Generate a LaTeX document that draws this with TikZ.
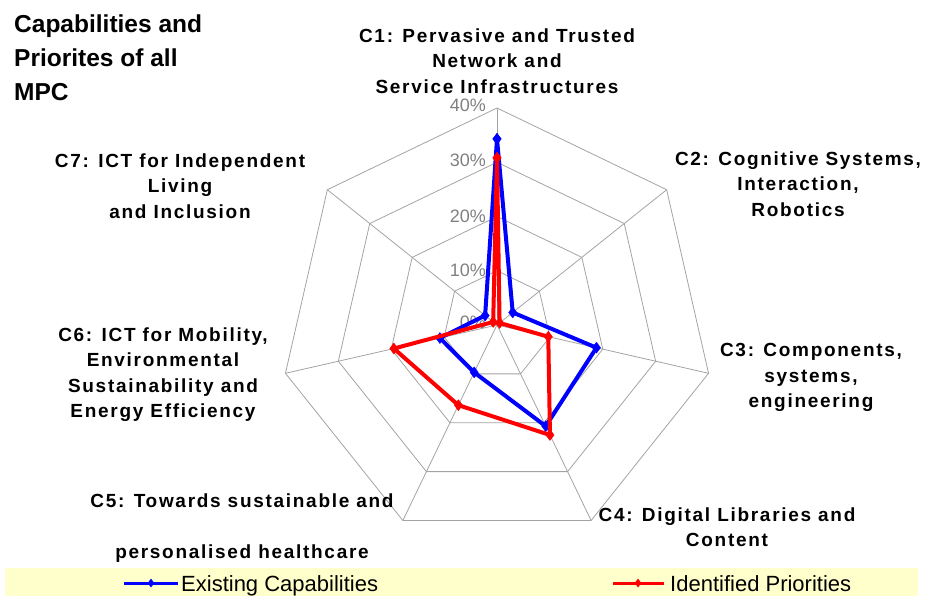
\documentclass[tikz,border=0pt]{standalone}
\usepackage{fontspec}
\setmainfont{Liberation Sans}
\usepackage{tikz}
\usetikzlibrary{plotmarks}
\definecolor{gridgray}{rgb}{.64,.64,.64}
\definecolor{axisgray}{rgb}{.5,.5,.5}
\definecolor{legendbg}{rgb}{1,1,.8}
\newcommand{\catfont}{\fontsize{19}{25.5}\selectfont\bfseries\addfontfeature{LetterSpace=9}}

\begin{document}
\begin{tikzpicture}[x=1pt,y=1pt,
    ring/.style={draw=gridgray,line width=0.8pt},
    series/.style={line width=4pt,line join=round,mark=diamond*,mark size=5.5pt,mark options={solid,line width=0.4pt}},
    cat/.style={align=center,anchor=north,inner sep=0pt,font=\catfont},
    pct/.style={anchor=east,inner sep=0pt,text=axisgray,font=\fontsize{18}{18}\selectfont}]
\useasboundingbox (0,0) rectangle (929,598);

\node[anchor=north west,align=left,inner sep=0pt,font=\fontsize{24.5}{34}\selectfont\bfseries] (title) at (14,583) {Capabilities and\\Priorites of all\\MPC};

\begin{scope}[shift={(497,273)}]
 % rings
 \draw[ring] (90:54.25) -- (38.57:54.25) -- (-12.86:54.25) -- (-64.29:54.25) -- (-115.71:54.25) -- (-167.14:54.25) -- (141.43:54.25) -- cycle;
 \draw[ring] (90:108.5) -- (38.57:108.5) -- (-12.86:108.5) -- (-64.29:108.5) -- (-115.71:108.5) -- (-167.14:108.5) -- (141.43:108.5) -- cycle;
 \draw[ring] (90:162.75) -- (38.57:162.75) -- (-12.86:162.75) -- (-64.29:162.75) -- (-115.71:162.75) -- (-167.14:162.75) -- (141.43:162.75) -- cycle;
 \draw[ring] (90:217) -- (38.57:217) -- (-12.86:217) -- (-64.29:217) -- (-115.71:217) -- (-167.14:217) -- (141.43:217) -- cycle;

 % spokes
 \draw[ring] (0,0) -- (90:217);
 \draw[ring] (0,0) -- (38.57:217);
 \draw[ring] (0,0) -- (-12.86:217);
 \draw[ring] (0,0) -- (-64.29:217);
 \draw[ring] (0,0) -- (-115.71:217);
 \draw[ring] (0,0) -- (-167.14:217);
 \draw[ring] (0,0) -- (141.43:217);

 \node[pct] (p0) at (-11,3) {0\%};
 \node[pct] (p10) at (-11,55) {10\%};
 \node[pct] (p20) at (-11,109) {20\%};
 \node[pct] (p30) at (-11,165) {30\%};
 \node[pct] (p40) at (-11,220) {40\%};

 % existing capabilities
 \draw[blue,series] plot coordinates {(90:186.1) (38.57:20.1) (-12.86:102) (-64.29:112.3) (-115.71:52.6) (-167.14:58.6) (141.43:15.2) (90:186.1)};
 % identified priorities
 \draw[red,series] plot coordinates {(90:167.1) (38.57:3.3) (-12.86:52.6) (-64.29:122.1) (-115.71:89) (-167.14:105.8) (141.43:4.9) (90:167.1)};
\end{scope}

\node[cat] (c1) at (497,569.5) {C1: Pervasive and Trusted\\Network and\\Service Infrastructures};
\node[cat] (c2) at (798,446.5) {C2: Cognitive Systems,\\Interaction,\\Robotics};
\node[cat] (c3) at (811,254.5) {C3: Components,\\systems,\\engineering};
\node[cat] (c4) at (727,90.5) {C4: Digital Libraries and\\Content};
\node[cat] (c5) at (242,104.5) {C5: Towards sustainable and\\[25.5pt]personalised healthcare};
\node[cat] (c6) at (163,270.5) {C6: ICT for Mobility,\\Environmental\\Sustainability and\\Energy Efficiency};
\node[cat] (c7) at (180,444.5) {C7: ICT for Independent\\Living\\and Inclusion};

% legend
\fill[legendbg] (5,2) rectangle (918,30);
\draw[blue,line width=3pt] (124,15) -- (178,15);
\draw[blue] plot[only marks,mark=diamond*,mark size=4pt] coordinates {(151,15)};
\node[anchor=base west,inner sep=0pt,font=\fontsize{22}{22}\selectfont] (lgExist) at (181,7) {Existing Capabilities};
\draw[red,line width=3pt] (613,15) -- (664,15);
\draw[red] plot[only marks,mark=diamond*,mark size=4pt] coordinates {(638,15)};
\node[anchor=base west,inner sep=0pt,font=\fontsize{22}{22}\selectfont] (lgIdent) at (670,7) {Identified Priorities};
\end{tikzpicture}
\end{document}
